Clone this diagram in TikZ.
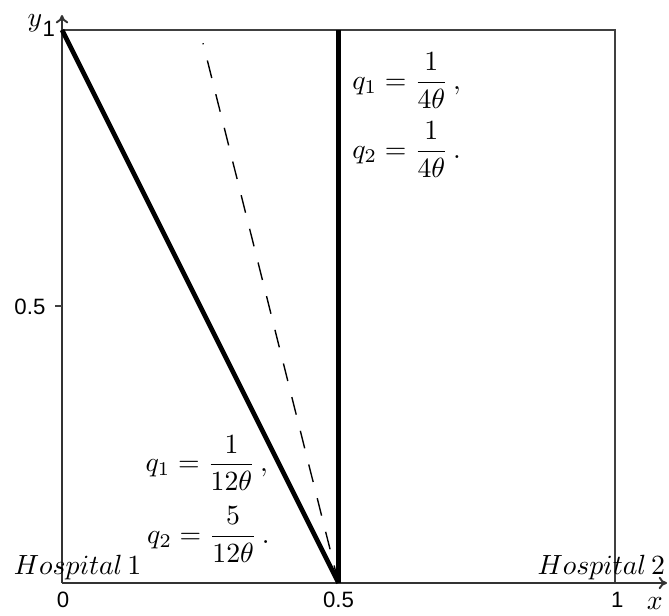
\documentclass[tikz,border=0pt]{standalone}
\usepackage{amsmath}
\usepackage{fontspec}
\newfontfamily\tickfont{Liberation Sans}
\usetikzlibrary{arrows.meta}
\tikzset{
  axisline/.style={line width=0.7pt, draw=black!80, -{To[length=3pt,width=4.5pt]}},
  boxline/.style={line width=0.7pt, draw=black!75},
  thickline/.style={line width=1.7pt},
  dashline/.style={line width=0.5pt, dash pattern=on 6.5pt off 6pt},
  ticklab/.style={font=\tickfont\fontsize{8}{9}\selectfont, inner sep=0pt},
  eqlab/.style={anchor=west, inner sep=0pt},
  hosplab/.style={anchor=base, inner sep=0pt}
}
\begin{document}
\begin{tikzpicture}[x=7cm,y=7cm]
\useasboundingbox (-0.1121,-0.0597) rectangle (1.0976,1.0542);
\coordinate (O) at (0,0);
\coordinate (A) at (0,1);
\coordinate (M) at (0.5,0);
\coordinate (T) at (0.5,1);
\coordinate (B) at (1,0);
\coordinate (C) at (1,1);
\coordinate (Xend) at (1.094,0);
\coordinate (Yend) at (0,1.027);
\coordinate (Dtop) at (0.255,0.976);
\coordinate (Ytick) at (0,0.5);
\coordinate (Ytick2) at (-0.012,0.5);
% box
\draw[boxline] (A) -- (C) -- (B);
% axes
\draw[axisline] (O) -- (Xend);
\draw[axisline] (O) -- (Yend);
\draw[boxline] (Ytick2) -- (Ytick);
% lines
\draw[dashline] (M) -- (Dtop);
\draw[thickline] (A) -- (M);
\draw[thickline] (M) -- (T);
% tick labels
\node[ticklab] (l0) at (0.002,-0.031) {0};
\node[ticklab] (l05) at (0.5,-0.031) {0.5};
\node[ticklab] (l1) at (1.004,-0.031) {1};
\node[ticklab] (ly05) at (-0.058,0.5) {0.5};
\node[ticklab] (ly1) at (-0.024,1.002) {1};
\node (xl) at (1.072,-0.038) {$x$};
\node (yl) at (-0.0488,1.013) {$y$};
% hospitals
\node[hosplab] (h1) at (0.028,0.0145) {$Hospital\,1$};
\node[hosplab] (h2) at (0.975,0.0145) {$Hospital\,2$};
% equations
\node[eqlab] (e1) at (0.524,0.908) {$q_1=\dfrac{1}{4\theta}\,,$};
\node[eqlab] (e2) at (0.524,0.783) {$q_2=\dfrac{1}{4\theta}\,.$};
\node[eqlab] (e3) at (0.150,0.217) {$q_1=\dfrac{1}{12\theta}\,,$};
\node[eqlab] (e4) at (0.153,0.087) {$q_2=\dfrac{5}{12\theta}\,.$};
\end{tikzpicture}
\end{document}
